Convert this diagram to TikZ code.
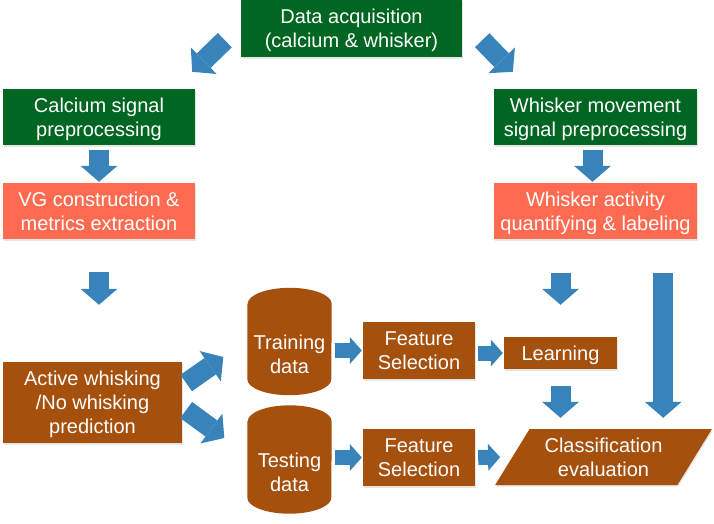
\documentclass[tikz,border=0pt]{standalone}
\usepackage{fontspec}
\setmainfont{Liberation Sans}
\usetikzlibrary{shapes.geometric,arrows.meta,shadows,backgrounds}
\definecolor{dgreen}{RGB}{0,102,33}
\definecolor{salmon}{RGB}{255,107,80}
\definecolor{rust}{RGB}{166,80,14}
\definecolor{steel}{RGB}{56,131,186}
\newcommand{\cyltext}[1]{\raisebox{-20pt}[20pt][20pt]{\begin{tabular}{@{}c@{}}#1\end{tabular}}}

\begin{document}
\begin{tikzpicture}[x=1pt,y=-1pt,
		box/.style={rectangle,text=white,align=center,inner sep=0pt,text depth=-2pt,font=\fontsize{20}{24}\selectfont},
		greenbox/.style={box,fill=dgreen,drop shadow={opacity=0.2,shadow xshift=1pt,shadow yshift=-1.5pt}},
		redbox/.style={box,fill=salmon,drop shadow={opacity=0.2,shadow xshift=1pt,shadow yshift=-1.5pt}},
		brownbox/.style={box,fill=rust,drop shadow={opacity=0.2,shadow xshift=1pt,shadow yshift=-1.5pt}},
		datastore/.style={box,text depth=20pt,minimum width=84pt,minimum height=107pt},
		barrow/.style={draw=steel,line width=20pt,-{Triangle[width=37pt,length=16pt,line width=0pt]}},
		sarrow/.style={draw=steel,line width=15pt,-{Triangle[width=27pt,length=12pt,line width=0pt]}}]
					\def\cap{16pt}
					\useasboundingbox (0,0) rectangle (714,523);
					\node[greenbox,minimum width=221pt,minimum height=57pt] (acq) at (351.5,28.5) {Data acquisition\\(calcium \& whisker)};
					\node[greenbox,minimum width=192pt,minimum height=56pt] (capre) at (99,117) {Calcium signal\\preprocessing};
					\node[redbox,minimum width=192pt,minimum height=56pt] (vg) at (99,211) {VG construction \&\\metrics extraction};
					\node[greenbox,minimum width=203pt,minimum height=56pt] (whpre) at (595.5,117) {Whisker movement\\signal preprocessing};
					\node[redbox,minimum width=203pt,minimum height=56pt] (whact) at (595.5,211) {Whisker activity\\quantifying \& labeling};
					\node[brownbox,minimum width=179pt,minimum height=81pt] (pred) at (92.5,402.5) {Active whisking\\/No whisking\\prediction};
					\node[datastore] (train) at (289.5,341.5) {\cyltext{Training\\data}};
					\node[datastore,minimum height=108pt] (test) at (289.5,459.5) {\cyltext{Testing\\data}};
					\node[brownbox,minimum width=112pt,minimum height=57pt] (fsa) at (419,350.5) {Feature\\Selection};
					\node[brownbox,minimum width=112pt,minimum height=57pt] (fsb) at (419,457.5) {Feature\\Selection};
					\node[brownbox,minimum width=113pt,minimum height=32pt] (learn) at (560.5,353) {Learning};
					\node[brownbox,trapezium,trapezium stretches=true,trapezium left angle=54.5,trapezium right angle=125.5,minimum width=217pt,minimum height=56pt] (clas) at (603.5,457) {Classification\\evaluation};
					\begin{scope}[on background layer]
						\foreach \can in {train,test}
							\fill[rust] ([yshift=-\cap]\can.north west) -- ([yshift=\cap]\can.south west)
								arc[start angle=180,end angle=360,x radius=42pt,y radius=\cap]
								-- ([yshift=-\cap]\can.north east)
								arc[start angle=0,end angle=180,x radius=42pt,y radius=\cap] -- cycle;
					\end{scope}
					\draw[barrow] ([shift={(-16,-17)}]acq.south west) -- ([shift={(-3,-17)}]capre.north east);
					\draw[barrow] ([shift={(20,-17)}]acq.south east) -- ([shift={(19,-17)}]whpre.north west);
					\draw[barrow,shorten <=5pt,shorten >=1pt] (capre) -- (vg);
					\draw[barrow,shorten <=33pt,shorten >=57pt] (vg) -- (pred.north -| vg.south);
					\draw[barrow,shorten <=5pt,shorten >=1pt] ([xshift=-3pt]whpre.south) -- ([xshift=-3pt]whact.north);
					\draw[barrow,shorten <=34pt,shorten >=32pt] (whact.south -| learn.north) -- (learn.north);
					\draw[barrow,shorten <=34pt,shorten >=11pt] ([xshift=-34pt]whact.south east) -- ([xshift=-34pt]whact.south east |- clas.north);
					\draw[barrow,shorten <=17pt,shorten >=11pt] (learn.south) -- (learn.south |- clas.north);
					\draw[barrow] ([shift={(4,-19.5)}]pred.east) -- ([shift={(-24,15.5)}]train.west);
					\draw[barrow] ([shift={(4,7.5)}]pred.east) -- ([shift={(-23,-21.5)}]test.west);
					\draw[sarrow,shorten <=3pt,shorten >=1pt] (train.east |- fsa.west) -- (fsa.west);
					\draw[sarrow,shorten <=3pt,shorten >=1pt] (fsa.east |- learn.west) -- (learn.west);
					\draw[sarrow,shorten <=3pt,shorten >=1pt] (test.east |- fsb.west) -- (fsb.west);
					\draw[sarrow,shorten <=3pt,shorten >=12pt] (fsb.east) -- (clas.west);
				\end{tikzpicture}
\end{document}
